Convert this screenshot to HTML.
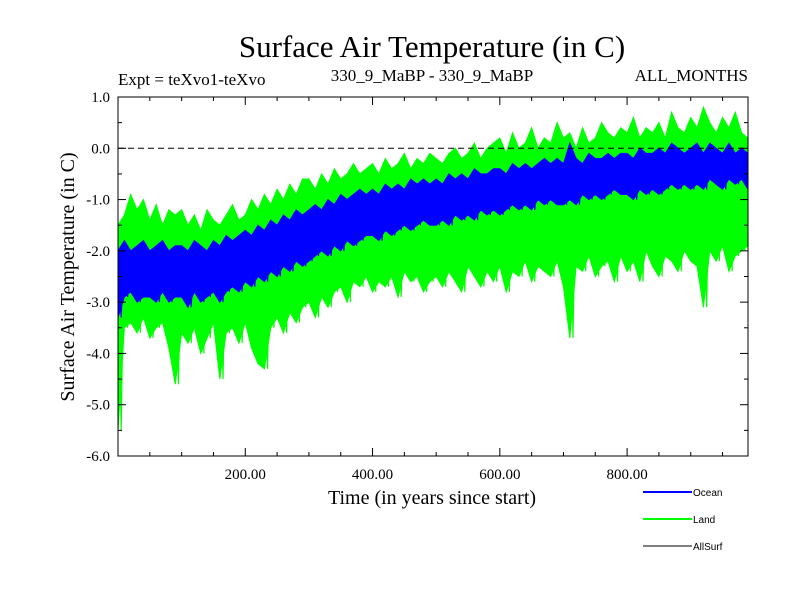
<!DOCTYPE html>
<html><head><meta charset="utf-8"><style>
body{margin:0;background:#fff}
svg text{font-family:"Liberation Serif",serif}
</style></head><body>
<svg id="chart" width="800" height="600">
<defs><clipPath id="pc"><rect x="118" y="97" width="630" height="359"/></clipPath></defs>
<text x="432" y="57" font-size="31" text-anchor="middle">Surface Air Temperature (in C)</text>
<text x="118" y="85" font-size="17">Expt = teXvo1-teXvo</text>
<text x="432" y="81" font-size="17" text-anchor="middle">330_9_MaBP - 330_9_MaBP</text>
<text x="748" y="81" font-size="17" text-anchor="end">ALL_MONTHS</text>
<text transform="translate(74,277) rotate(-90)" font-size="20" text-anchor="middle">Surface Air Temperature (in C)</text>
<text x="432" y="504" font-size="20" text-anchor="middle">Time (in years since start)</text>
<g id="marks" clip-path="url(#pc)"></g>
<g id="axes"></g>
<g>
<line x1="643" y1="492" x2="692" y2="492" stroke="#0000ff" stroke-width="2"/>
<text x="693" y="496" font-size="10" style="font-family:'Liberation Sans',sans-serif">Ocean</text>
<line x1="643" y1="519" x2="692" y2="519" stroke="#00ff00" stroke-width="2"/>
<text x="693" y="523" font-size="10" style="font-family:'Liberation Sans',sans-serif">Land</text>
<line x1="643" y1="546" x2="692" y2="546" stroke="#000" stroke-width="1"/>
<text x="693" y="550" font-size="10" style="font-family:'Liberation Sans',sans-serif">AllSurf</text>
</g>
</svg>
<script>
const years = Array.from({length:100},(_, i)=>i*10);
const landHi = [-1.5,-1.3,-0.9,-1.2,-1.0,-1.4,-1.1,-1.5,-1.2,-1.3,
-1.2,-1.5,-1.3,-1.6,-1.2,-1.4,-1.5,-1.3,-1.1,-1.4,
-1.3,-1.0,-1.2,-0.9,-1.1,-0.8,-1.0,-0.7,-0.9,-0.6,
-0.6,-0.8,-0.5,-0.7,-0.4,-0.6,-0.5,-0.3,-0.5,-0.4,
-0.3,-0.5,-0.2,-0.4,-0.3,-0.1,-0.4,-0.2,-0.3,-0.1,
-0.2,-0.3,-0.1,0.0,-0.2,-0.1,0.1,-0.2,0.0,0.1,
0.2,-0.1,0.3,0.0,0.1,0.4,0.0,0.2,0.1,0.5,
0.2,0.3,0.0,0.4,0.1,0.2,0.5,0.3,0.2,0.4,
0.3,0.6,0.2,0.4,0.3,0.5,0.2,0.7,0.4,0.3,
0.6,0.4,0.8,0.5,0.3,0.6,0.4,0.7,0.3,0.2];
const landLo = [-5.5,-3.5,-3.4,-3.6,-3.3,-3.7,-3.5,-3.4,-3.9,-4.6,
-3.6,-3.8,-3.5,-4.0,-3.7,-3.4,-4.5,-3.6,-3.5,-3.8,
-3.4,-3.9,-4.2,-4.3,-3.5,-3.3,-3.6,-3.2,-3.4,-3.1,
-3.0,-3.3,-2.9,-3.1,-2.8,-2.7,-3.0,-2.6,-2.7,-2.5,
-2.8,-2.6,-2.7,-2.5,-2.9,-2.4,-2.6,-2.5,-2.8,-2.6,
-2.5,-2.7,-2.4,-2.6,-2.8,-2.3,-2.5,-2.7,-2.4,-2.6,
-2.3,-2.8,-2.4,-2.5,-2.2,-2.6,-2.3,-2.4,-2.5,-2.2,
-2.7,-3.7,-2.3,-2.4,-2.1,-2.5,-2.3,-2.2,-2.6,-2.1,
-2.4,-2.2,-2.6,-2.0,-2.3,-2.5,-2.1,-2.2,-2.4,-2.0,
-2.2,-2.3,-3.1,-2.0,-2.2,-1.9,-2.4,-2.1,-2.0,-1.9];
const oceanHi = [-2.0,-1.8,-2.0,-1.9,-1.8,-2.0,-1.9,-1.8,-2.0,-1.9,
-1.9,-2.0,-1.8,-1.9,-2.0,-1.8,-1.9,-1.7,-1.8,-1.7,
-1.6,-1.7,-1.5,-1.6,-1.4,-1.5,-1.3,-1.4,-1.2,-1.3,
-1.2,-1.1,-1.2,-1.0,-1.1,-0.9,-1.0,-0.9,-0.8,-0.9,
-0.8,-0.9,-0.7,-0.8,-0.7,-0.8,-0.6,-0.7,-0.6,-0.7,
-0.6,-0.7,-0.5,-0.6,-0.5,-0.6,-0.4,-0.5,-0.5,-0.4,
-0.4,-0.5,-0.3,-0.4,-0.3,-0.4,-0.3,-0.2,-0.3,-0.2,
-0.3,0.1,-0.2,-0.3,-0.1,-0.2,-0.2,-0.1,-0.2,-0.1,
-0.1,-0.2,0.0,-0.1,-0.1,0.0,-0.1,0.1,0.0,-0.1,
0.0,0.1,-0.1,0.1,0.0,-0.1,0.1,-0.1,0.0,-0.1];
const oceanLo = [-3.3,-2.9,-2.8,-3.0,-2.9,-2.9,-3.0,-2.8,-3.0,-2.9,
-2.9,-3.1,-2.8,-3.0,-2.9,-2.8,-3.0,-2.8,-2.7,-2.8,
-2.6,-2.7,-2.5,-2.6,-2.4,-2.5,-2.3,-2.4,-2.2,-2.3,
-2.2,-2.1,-2.0,-2.1,-1.9,-2.0,-1.8,-1.9,-1.8,-1.7,
-1.7,-1.8,-1.6,-1.7,-1.6,-1.5,-1.6,-1.5,-1.4,-1.5,
-1.5,-1.4,-1.5,-1.3,-1.4,-1.3,-1.4,-1.2,-1.3,-1.2,
-1.3,-1.2,-1.1,-1.2,-1.1,-1.2,-1.0,-1.1,-1.0,-1.1,
-1.1,-1.0,-1.1,-0.9,-1.0,-0.9,-1.0,-0.9,-0.8,-0.9,
-0.9,-1.0,-0.8,-0.9,-0.8,-0.9,-0.8,-0.7,-0.8,-0.7,
-0.8,-0.7,-0.8,-0.6,-0.7,-0.8,-0.6,-0.7,-0.6,-0.8];
const yTicks = [1.0,0.0,-1.0,-2.0,-3.0,-4.0,-5.0,-6.0];
const xTicks = [200,400,600,800];

const L=118,R=748,T=97,B=456, XMAX=990, YMIN=-6, YMAX=1;
const sx=v=>L+(v/XMAX)*(R-L);
const sy=v=>T+(YMAX-v)/(YMAX-YMIN)*(B-T);
const NS="http://www.w3.org/2000/svg";
const marks=document.getElementById('marks'), axes=document.getElementById('axes');
function mk(tag,attrs,parent){const e=document.createElementNS(NS,tag);for(const k in attrs)e.setAttribute(k,attrs[k]);parent.appendChild(e);return e;}

function band(hi,lo,color,name,w){
  const top=years.map((y,i)=>sx(y)+','+sy(hi[i]));
  const bot=years.map((y,i)=>sx(y)+','+sy(lo[i])).reverse();
  const p=mk('polygon',{points:top.concat(bot).join(' '),fill:color,stroke:color,'stroke-width':1},marks);
  
  
  const zz=[];
  years.forEach((y,i)=>{zz.push(sx(y)+','+sy(hi[i]));zz.push(sx(y+5)+','+sy(lo[i]));});
  const l=mk('polyline',{points:zz.join(' '),fill:'none',stroke:color,'stroke-width':w},marks);
  
  
}
band(landHi,landLo,'#00ff00','land',1.2);
band(oceanHi,oceanLo,'#0000ff','ocean',1.2);

const zl=mk('line',{x1:L,x2:R,y1:sy(0),y2:sy(0),stroke:'#000','stroke-dasharray':'6,4','stroke-width':1},axes);


const fr=mk('rect',{x:L,y:T,width:R-L,height:B-T,fill:'none',stroke:'#000','stroke-width':1},axes);



yTicks.forEach(v=>{
  const y=sy(v);
  mk('line',{x1:L,x2:L+8,y1:y,y2:y,stroke:'#000'},axes);
  mk('line',{x1:R,x2:R-8,y1:y,y2:y,stroke:'#000'},axes);
  if(v>YMIN){const ym=sy(v-0.5);mk('line',{x1:L,x2:L+4,y1:ym,y2:ym,stroke:'#000'},axes);mk('line',{x1:R,x2:R-4,y1:ym,y2:ym,stroke:'#000'},axes);}
  const t=mk('text',{x:L-8,y:y+5,'font-size':15,'text-anchor':'end'},axes);
  t.textContent=v.toFixed(1);
  
  
});
for(let v=50;v<XMAX;v+=50){
  const x=sx(v), major=v%200===0, len=major?8:4;
  mk('line',{x1:x,x2:x,y1:B,y2:B-len,stroke:'#000'},axes);
  mk('line',{x1:x,x2:x,y1:T,y2:T+len,stroke:'#000'},axes);
}
xTicks.forEach(v=>{
  const t=mk('text',{x:sx(v),y:B+23,'font-size':15,'text-anchor':'middle'},axes);
  t.textContent=v.toFixed(2);
  
  
});
</script>
</body></html>
